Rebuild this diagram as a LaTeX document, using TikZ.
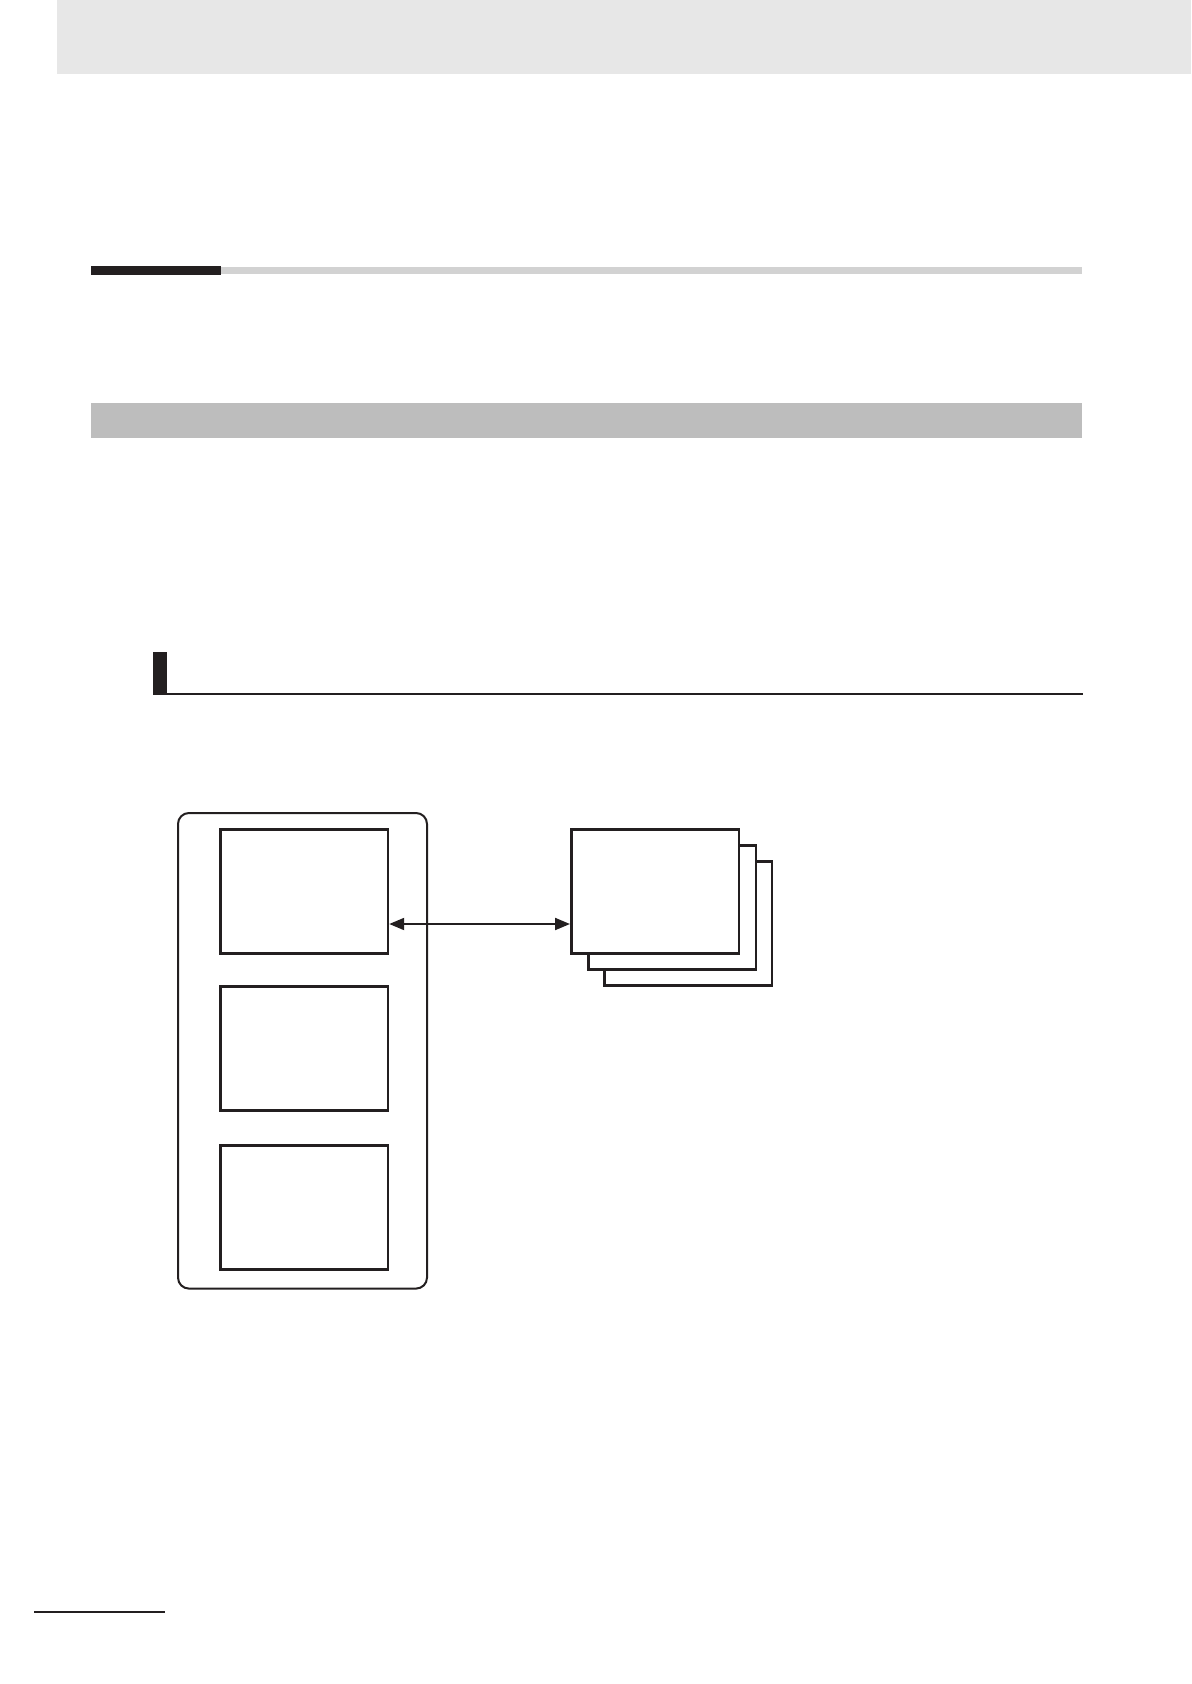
\documentclass[tikz,border=0pt]{standalone}
\usetikzlibrary{arrows.meta}
\definecolor{ink}{HTML}{231F20}
\definecolor{headgray}{HTML}{E7E7E7}
\definecolor{barlight}{HTML}{D2D2D2}
\definecolor{bandgray}{HTML}{BDBDBD}
\tikzset{
  box/.style={draw=ink, line width=1.3pt, fill=white, inner sep=0pt, anchor=north west,
              minimum width=83.8pt, minimum height=62.2pt},
  frame/.style={draw=ink, line width=1pt, rounded corners=5.5pt, inner sep=0pt, anchor=north west,
              minimum width=124.5pt, minimum height=237.8pt},
  link/.style={ink, line width=1pt, {Triangle[length=7.5pt,width=6pt]}-{Triangle[length=7.5pt,width=6pt]}}
}
\begin{document}
\begin{tikzpicture}[x=0.5pt, y=-0.5pt]
  \useasboundingbox (0,0) rectangle (1191,1684);
  % page decorations
  \fill[headgray] (57,0) rectangle (1191,74);
  \fill[ink] (91,266) rectangle (221,275);
  \fill[barlight] (221,267) rectangle (1082,274);
  \fill[bandgray] (91,403) rectangle (1082,438);
  \fill[ink] (153,652) rectangle (167,694);
  \draw[ink, line width=1pt] (153,694) -- (1083,694);
  \draw[ink, line width=1.3pt] (34,1612) -- (165,1612);
  % left frame with three boxes
  \node[frame] (outer) at (177,812) {};
  \node[box] (b1) at (219,828) {};
  \node[box] (b2) at (219,985) {};
  \node[box] (b3) at (219,1144) {};
  % stacked boxes
  \node[box] (f3) at (603,860) {};
  \node[box] (f2) at (587,844) {};
  \node[box] (f1) at (570,828) {};
  % arrow
  \coordinate (ay) at (0,924);
  \draw[link] (b1.east |- ay) -- (f1.west |- ay);
\end{tikzpicture}
\end{document}
